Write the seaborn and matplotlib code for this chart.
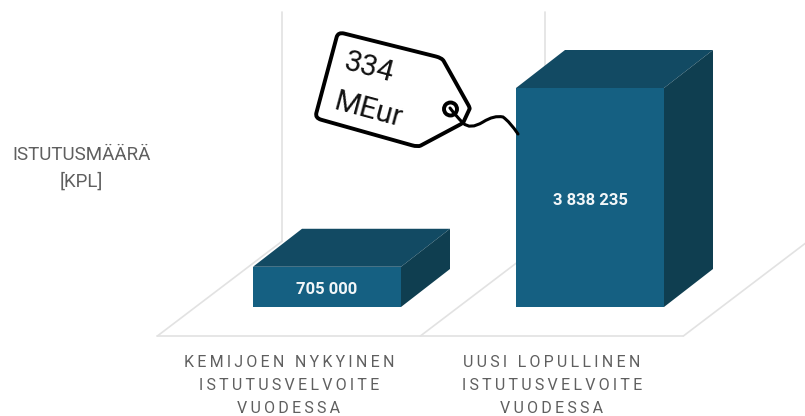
import matplotlib
matplotlib.use('Agg')
import matplotlib.pyplot as plt
import seaborn as sns
from matplotlib.patches import PathPatch, Polygon
from matplotlib.path import Path
from matplotlib.transforms import Affine2D

categories = ['KEMIJOEN NYKYINEN\nISTUTUSVELVOITE\nVUODESSA',
              'UUSI LOPULLINEN\nISTUTUSVELVOITE\nVUODESSA']
values = [705000, 3838235]
value_labels = ['705 000', '3 838 235']
y_label = 'ISTUTUSMÄÄRÄ\n[KPL]'
tag_labels = ['334', 'MEur']

W, H = 805, 416
PX_X = 263                 # pixels per category step
PX_Y = 219 / 3838235       # pixels per unit
BASE = 307                 # baseline, pixels from top
AX_BOTTOM = 345            # axes lower edge, pixels from top
FRONT, TOP, SIDE = '#156082', '#124a63', '#0f3e50'
GRID = '#e2e2e2'
TEXT = '#5f5f5f'

sns.set_theme(style='white')
plt.rcParams['font.family'] = ['Roboto', 'DejaVu Sans']

fig = plt.figure(figsize=(W / 100, H / 100), dpi=100)
ax = fig.add_axes([0, 1 - AX_BOTTOM / H, 1, AX_BOTTOM / H])

sns.barplot(x=categories, y=values, color=FRONT, saturation=1, width=148 / PX_X,
            ax=ax, zorder=3, linewidth=0)
ax.set_xlim(-327 / PX_X, (W - 327) / PX_X)
ax.set_ylim(-(AX_BOTTOM - BASE) / PX_Y, BASE / PX_Y)
ax.set_yticks([])
sns.despine(ax=ax, left=True, bottom=True)

# 3d offset in data units
dx, dy = 49 / PX_X, 38 / PX_Y
for bar, label in zip(ax.patches, value_labels):
    x0, x1 = bar.get_x(), bar.get_x() + bar.get_width()
    h = bar.get_height()
    ax.add_patch(Polygon([(x0, h), (x1, h), (x1 + dx, h + dy), (x0 + dx, h + dy)],
                         fc=TOP, ec='none', zorder=3))
    ax.add_patch(Polygon([(x1, 0), (x1 + dx, dy), (x1 + dx, h + dy), (x1, h)],
                         fc=SIDE, ec='none', zorder=3))
    ax.text((x0 + x1) / 2, h / 2 - 3 / PX_Y, label, color='#f2f6f8', fontsize=12, fontweight='bold',
            ha='center', va='center', zorder=4)

# floor and back walls
floor_y = -29 / PX_Y
rise = 95 / PX_Y
run = 125 / PX_X
left = -0.645
ax.plot([left, left + 2], [floor_y, floor_y], color=GRID, lw=1.2, zorder=1)
for i in range(3):
    ax.plot([left + i, left + i + run], [floor_y, floor_y + rise], color=GRID, lw=1.2, zorder=1)
    ax.plot([left + i + run] * 2, [floor_y + rise, (BASE - 12) / PX_Y], color=GRID, lw=1.2, zorder=1)

# letter spaced tick labels, centred under the floor cells
thin = '\u2009'
ax.set_xticks([left + 0.5, left + 1.5])
ax.set_xticklabels(['\n'.join(thin.join(line) for line in c.split('\n')) for c in categories])
ax.tick_params(axis='x', length=0, pad=7, labelsize=11.5, labelcolor=TEXT)
for t in ax.get_xticklabels():
    t.set_linespacing(1.66)
ax.set_xlabel('')

ax.set_ylabel(y_label, rotation=0, fontsize=13.5, color=TEXT, ha='center', va='center',
              linespacing=1.55)
ax.yaxis.set_label_coords(81.5 / W, 1 - 168.5 / AX_BOTTOM)

# price tag, drawn in pixels from the top left
px = Affine2D().scale(1 / W, -1 / H).translate(0, 1) + fig.transFigure
corners = [(338, 32), (442, 58), (470, 108), (463, 123), (418, 147), (315, 118)]


def rounded(points, r=0.06):
    verts, codes = [], []
    n = len(points)
    for i, (x, y) in enumerate(points):
        xp, yp = points[i - 1]
        xn, yn = points[(i + 1) % n]
        verts += [(x + (xp - x) * r, y + (yp - y) * r), (x, y), (x + (xn - x) * r, y + (yn - y) * r)]
        codes += [Path.LINETO if i else Path.MOVETO, Path.CURVE3, Path.CURVE3]
    verts.append(verts[0])
    codes.append(Path.CLOSEPOLY)
    return Path(verts, codes)


ax.add_patch(PathPatch(rounded(corners), fc='white', ec='black', lw=2.8, joinstyle='round',
                       transform=px, zorder=5))
ring = Path.circle((450.5, 109), 6.5)
ax.add_patch(PathPatch(ring, fc='none', ec='black', lw=2.8, transform=px, zorder=6))
string = Path([(450, 108), (456, 116), (463, 123), (470, 130), (483, 122), (494, 115), (503, 117),
               (510, 122), (518, 134)],
              [Path.MOVETO, Path.CURVE3, Path.CURVE3, Path.CURVE3, Path.CURVE3, Path.CURVE3, Path.CURVE3,
               Path.CURVE3, Path.CURVE3])
ax.add_patch(PathPatch(string, fc='none', ec='black', lw=2.2, capstyle='round', transform=px, zorder=6))
ax.text(369, 68, tag_labels[0], fontsize=21.5, rotation=-15, rotation_mode='anchor', ha='center', va='center',
        color='#111111', transform=px, zorder=7)
ax.text(368, 110, tag_labels[1], fontsize=21.5, rotation=-15, rotation_mode='anchor', ha='center', va='center',
        color='#111111', transform=px, zorder=7)

fig.savefig('out.png', dpi=100)
